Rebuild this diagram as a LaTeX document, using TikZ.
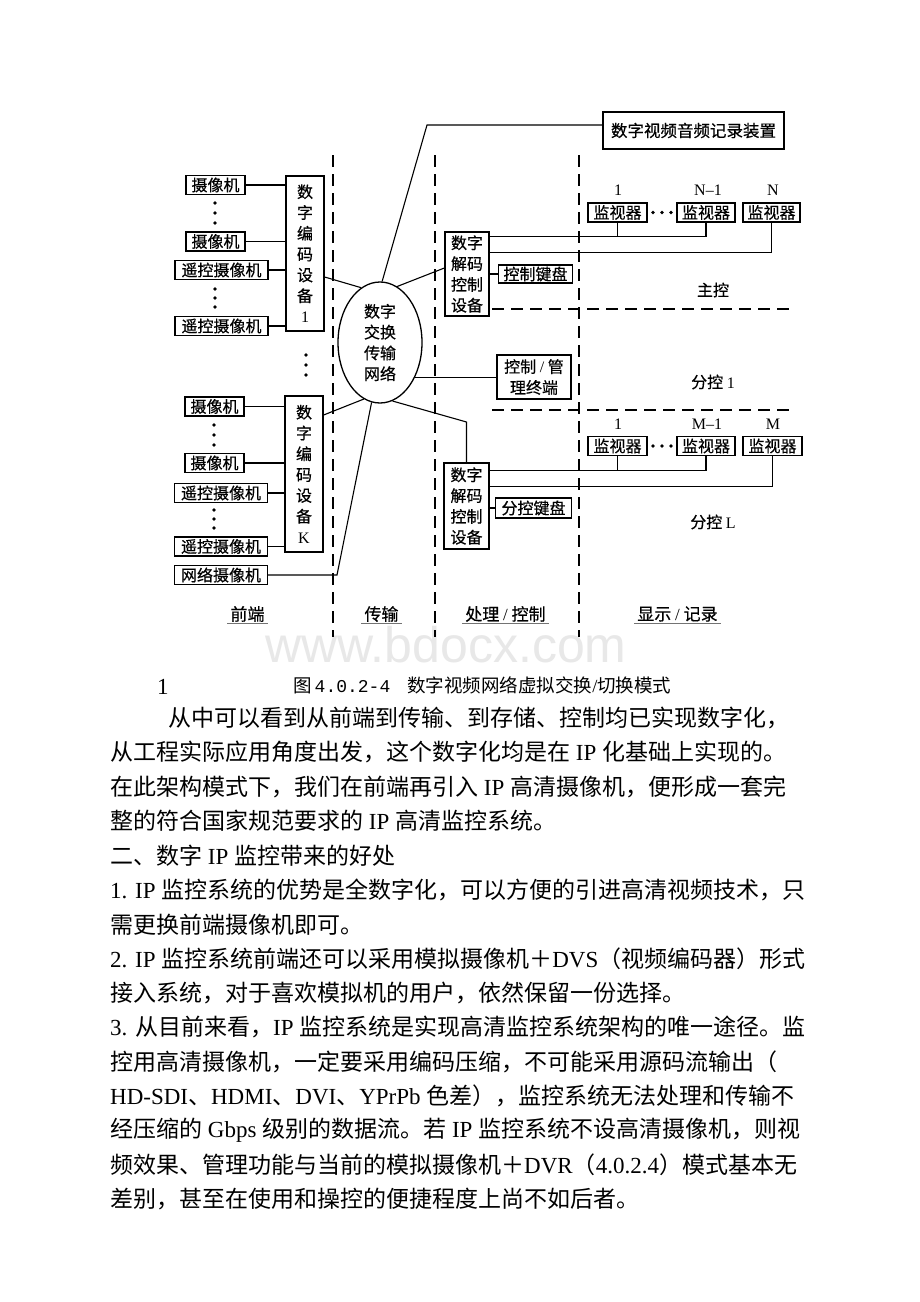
\documentclass[tikz,border=0pt]{standalone}
\usepackage{fontspec}
\setmainfont{Liberation Serif}
\newfontfamily\cjk{Noto Sans CJK SC}
\newfontfamily\cjkd[FakeBold=0.5]{Noto Sans CJK SC}
\newfontfamily\tmono{Liberation Mono}
\newfontfamily\wmfont{Liberation Sans}
\usetikzlibrary{shapes.geometric}
\newcommand\dgfont{\cjkd\fontsize{16}{20.8}\selectfont}
\newcommand\bodyfont{\cjk\fontsize{23}{28}\selectfont}
\newcommand\lat[1]{{\rmfamily #1}}
\tikzset{
  box/.style={draw, line width=1.3pt, inner sep=0pt, font=\dgfont, minimum height=19pt},
  vbox/.style={draw, line width=1.3pt, inner sep=0pt, font=\dgfont, align=center},
  conn/.style={line width=1.1pt},
  sepline/.style={line width=1.3pt, dash pattern=on 12pt off 7pt},
  lbl/.style={font=\dgfont, inner sep=0pt},
  nlbl/.style={font=\rmfamily\fontsize{16}{18}\selectfont, inner sep=0pt},
  body/.style={font=\bodyfont, inner sep=0pt, anchor=west},
  dot/.style={fill=black, circle, inner sep=0pt, minimum size=3.6pt},
}
\begin{document}
\begin{tikzpicture}[x=1pt, y=-1pt]
\useasboundingbox[fill=white] (0,0) rectangle (920,1302);
% watermark
\node[font=\wmfont\fontsize{50}{50}\selectfont, text=black!9, anchor=base, inner sep=0pt] (wm) at (446,662) {www.bdocx.com};

% separators
\draw[sepline] (333,155) -- (333,637);
\draw[sepline] (435,155) -- (435,637);
\draw[sepline] (579,155) -- (579,637);
\draw[sepline] (492,309) -- (793,309);
\draw[sepline] (492,410) -- (793,410);

% front-end group 1
\node[box, minimum width=59pt] (cam1) at (215.5,185) {摄像机};
\node[box, minimum width=59pt] (cam2) at (215.5,241.5) {摄像机};
\node[box, minimum width=93pt] (rcam1) at (221.5,270) {遥控摄像机};
\node[box, minimum width=93pt] (rcam2) at (221.5,326) {遥控摄像机};
\node[vbox, minimum width=38pt, minimum height=155pt] (enc1) at (305,253.5) {数\\字\\编\\码\\设\\备\\\lat{1}};
\foreach \yy in {203,213,223,289,298,307} \node[dot] at (215,\yy) {};
\foreach \yy in {355,365,375} \node[dot] at (306,\yy) {};

% front-end group K
\node[box, minimum width=59pt] (cam3) at (214.5,406.5) {摄像机};
\node[box, minimum width=59pt] (cam4) at (214.5,463) {摄像机};
\node[box, minimum width=93pt] (rcam3) at (221,493) {遥控摄像机};
\node[box, minimum width=93pt] (rcam4) at (221,546.5) {遥控摄像机};
\node[box, minimum width=93pt] (ncam) at (221,575) {网络摄像机};
\node[vbox, minimum width=38pt, minimum height=156pt] (encK) at (304,474) {数\\字\\编\\码\\设\\备\\\lat{K}};
\foreach \yy in {425,435,445,510,519,528} \node[dot] at (214,\yy) {};

% network
\node[draw, ellipse, line width=1.3pt, inner sep=0pt, minimum width=84pt, minimum height=121pt, font=\dgfont, align=center] (net) at (380,342.5) {数字\\交换\\传输\\网络};

% record
\node[box, minimum width=181pt, minimum height=37pt, font=\cjkd\fontsize{16.5}{20}\selectfont] (rec) at (693.5,130.5) {数字视频音频记录装置};

% main control
\node[vbox, minimum width=44pt, minimum height=84pt] (dec1) at (467,274) {数字\\解码\\控制\\设备};
\node[box, minimum width=74pt, minimum height=18pt] (kb1) at (535.5,274) {控制键盘};
\node[box, minimum width=59pt] (mon1) at (617.5,212.5) {监视器};
\node[box, minimum width=58pt] (mon2) at (706,212.5) {监视器};
\node[box, minimum width=57pt] (mon3) at (771.5,212.5) {监视器};
\node[nlbl] (l1) at (618,190) {1};
\node[nlbl] (l2) at (708,190) {N–1};
\node[nlbl] (l3) at (773,190) {N};
\foreach \xx in {653,662,671} \node[dot] at (\xx,212.5) {};
\node[lbl] (zk) at (713,290) {主控};

% terminal
\node[vbox, minimum width=74pt, minimum height=44pt] (term) at (534,377) {控制 \lat{/} 管\\理终端};
\node[lbl] (fk1) at (713,382) {分控 \lat{1}};

% sub control L
\node[vbox, minimum width=45pt, minimum height=86pt] (dec2) at (466.5,506) {数字\\解码\\控制\\设备};
\node[box, minimum width=76pt, minimum height=20pt] (kb2) at (533.5,508) {分控键盘};
\node[box, minimum width=59pt] (mon4) at (617.5,446) {监视器};
\node[box, minimum width=58pt] (mon5) at (706,446) {监视器};
\node[box, minimum width=59pt] (mon6) at (772.5,446) {监视器};
\node[nlbl] (k1) at (618,424) {1};
\node[nlbl] (k2) at (707,424) {M–1};
\node[nlbl] (k3) at (773,424) {M};
\foreach \xx in {653,662,671} \node[dot] at (\xx,446) {};
\node[lbl] (fkL) at (713,522) {分控 \lat{L}};

% connectors front end
\foreach \c in {cam1,cam2,rcam1,rcam2} \draw[conn] (\c.east) -- (\c.east -| enc1.west);
\foreach \c in {cam3,cam4,rcam3,rcam4} \draw[conn] (\c.east) -- (\c.east -| encK.west);
\coordinate (nj) at (337,575);
\draw[conn] (ncam.east) -- (nj) -- (net.262.5);
\draw[conn] ([yshift=-23.5pt]enc1.east) -- (net.109);
\draw[conn] ([yshift=59pt]encK.east) -- (net.254);
% to recorder
\coordinate (rj) at (427,125);
\draw[conn] (net.88) -- (rj) -- ([yshift=5.5pt]rec.west);
% to decoders / terminal
\draw[conn] (net.73) -- ([yshift=6pt]dec1.west);
\draw[conn] (net.315.7) -- (net.315.7 -| term.west);
\coordinate (dj) at (466.5,422);
\draw[conn] (net.282) -- (dj) -- (dec2.north);
% keyboards
\draw[conn] (kb1.west) -- (kb1.west -| dec1.east);
\draw[conn] (kb2.west) -- (kb2.west -| dec2.east);
% monitor buses main
\coordinate (b1) at ([yshift=-5pt]dec1.north east);
\draw[conn] (b1) -| (mon2.south);
\draw[conn] (mon1.south) -- (mon1.south |- b1);
\draw[conn] ([yshift=-21pt]dec1.north east) -| (mon3.south);
% monitor buses L
\coordinate (b2) at ([yshift=-8pt]dec2.north east);
\draw[conn] (b2) -| (mon5.south);
\draw[conn] (mon4.south) -- (mon4.south |- b2);
\draw[conn] ([yshift=-24pt]dec2.north east) -| (mon6.south);

% bottom labels
\node[lbl, font=\cjkd\fontsize{17}{20}\selectfont] (f1) at (247.5,614) {前端};
\node[lbl, font=\cjkd\fontsize{17}{20}\selectfont] (f2) at (381.5,614) {传输};
\node[lbl, font=\cjkd\fontsize{17}{20}\selectfont] (f3) at (505.5,614) {处理 \lat{/} 控制};
\node[lbl, font=\cjkd\fontsize{17}{20}\selectfont] (f4) at (677.5,614) {显示 \lat{/} 记录};
\foreach \n in {f1,f2,f3,f4} \draw[line width=1pt, black!55] ([yshift=-9pt,xshift=-3pt]\n.west) -- ([yshift=-9pt,xshift=3pt]\n.east);

% caption
\node[inner sep=0pt, anchor=west, font=\fontsize{18.5}{22}\selectfont] (cap) at (293,685) {{\cjk 图}\hspace{3pt}{\tmono\fontsize{18}{22}\selectfont 4.0.2-4}\hspace{17pt}{\cjk 数字视频网络虚拟交换}/{\cjk 切换模式}};
\node[inner sep=0pt, anchor=west, font=\fontsize{23}{28}\selectfont] (one) at (157,687) {1};

% body text
\node[body] (t1) at (168,718) {从中可以看到从前端到传输、到存储、控制均已实现数字化，};
\node[body] (t2) at (110,752.4) {从工程实际应用角度出发，这个数字化均是在\lat{ IP }化基础上实现的。};
\node[body] (t3) at (110,786.8) {在此架构模式下，我们在前端再引入\lat{ IP }高清摄像机，便形成一套完};
\node[body] (t4) at (110,821.1) {整的符合国家规范要求的\lat{ IP }高清监控系统。};
\node[body] (t5) at (110,855.5) {二、数字\lat{ IP }监控带来的好处};
\node[body] (t6) at (110,889.9) {\lat{1. IP }监控系统的优势是全数字化，可以方便的引进高清视频技术，只};
\node[body] (t7) at (110,924.3) {需更换前端摄像机即可。};
\node[body] (t8) at (110,958.6) {\lat{2. IP }监控系统前端还可以采用模拟摄像机＋\lat{DVS}（视频编码器）形式};
\node[body] (t9) at (110,993) {接入系统，对于喜欢模拟机的用户，依然保留一份选择。};
\node[body] (t10) at (110,1027.4) {\lat{3. }从目前来看，\lat{IP }监控系统是实现高清监控系统架构的唯一途径。监};
\node[body] (t11) at (110,1061.8) {控用高清摄像机，一定要采用编码压缩，不可能采用源码流输出（};
\node[body] (t12) at (110,1096.1) {\lat{HD-SDI}、\lat{HDMI}、\lat{DVI}、\lat{YPrPb }色差），监控系统无法处理和传输不};
\node[body] (t13) at (110,1130.5) {经压缩的\lat{ Gbps }级别的数据流。若\lat{ IP }监控系统不设高清摄像机，则视};
\node[body] (t14) at (110,1164.9) {频效果、管理功能与当前的模拟摄像机＋\lat{DVR}（\lat{4.0.2.4}）模式基本无};
\node[body] (t15) at (110,1199.3) {差别，甚至在使用和操控的便捷程度上尚不如后者。};
\end{tikzpicture}
\end{document}
